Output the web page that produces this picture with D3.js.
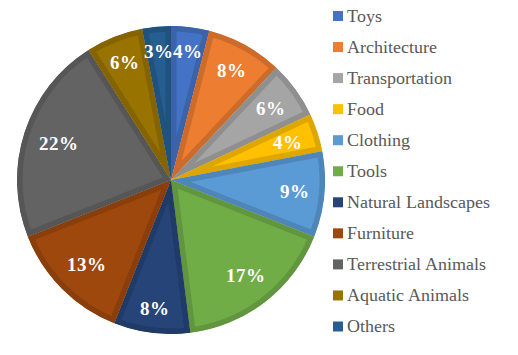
<!DOCTYPE html>
<html><head><meta charset="utf-8">
<script src="https://cdn.jsdelivr.net/npm/d3@7"></script>
<style>
@font-face{font-family:"RefSerif";src:local("Liberation Serif"),local("LiberationSerif");font-weight:normal}
@font-face{font-family:"RefSerif";src:local("Liberation Serif Bold"),local("LiberationSerif-Bold");font-weight:bold}
body{margin:0;background:#fff}
svg{display:block}
</style>
</head><body>
<svg id="c" width="518" height="355"></svg>
<script>
const categories = ["Toys","Architecture","Transportation","Food","Clothing","Tools","Natural Landscapes","Furniture","Terrestrial Animals","Aquatic Animals","Others"];
const values = [4,8,6,4,9,17,8,13,22,6,3];
const colors = ["#4472C4","#ED7D31","#A5A5A5","#FFC000","#5B9BD5","#70AD47","#264478","#9E480E","#636363","#997300","#255E91"];

const FONT = "RefSerif, Times New Roman";
const svg = d3.select("#c");
const cx = 171, cy = 180, R = 154;
const pie = d3.pie().sort(null).value(d => d)(values);
const arc = d3.arc().innerRadius(0).outerRadius(R);
const defs = svg.append("defs");

pie.forEach((p, i) => {
  const id = "clip" + i;
  defs.append("clipPath").attr("id", id).append("path").attr("d", arc(p)).attr("transform", `translate(${cx},${cy})`);
  const sg = svg.append("g").attr("clip-path", `url(#${id})`).append("g").attr("transform", `translate(${cx},${cy})`);
  sg.append("path").attr("d", arc(p))
    .attr("fill", colors[i])
    .attr("stroke", d3.color(colors[i]).darker(0.4))
    .attr("stroke-width", 11)
    .attr("stroke-linejoin", "miter");
});

// labels
const lg = svg.append("g").attr("transform", `translate(${cx},${cy})`);
const Rin = 139;
pie.forEach((p, i) => {
  const a = (p.startAngle + p.endAngle) / 2;
  const t = lg.append("text").text(values[i] + "%")
    .attr("font-family", FONT)
    .attr("font-weight", "bold")
    .attr("font-size", 19)
    .attr("fill", "#fff").attr("text-anchor", "middle")
    .attr("dy", "0.35em");
  const w = (String(values[i]).length * 0.5 + 1) * 19;
  const r = Rin - Math.abs(Math.sin(a)) * w / 2 - Math.abs(Math.cos(a)) * 8;
  t.attr("x", r * Math.sin(a)).attr("y", -r * Math.cos(a));
});

// legend
categories.forEach((c, i) => {
  const y = 16 + i * 31.05;
  svg.append("rect").attr("x", 333).attr("y", y - 5).attr("width", 10).attr("height", 10).attr("fill", colors[i]);
  svg.append("text").attr("x", 347).attr("y", y).attr("dy", "0.33em")
    .attr("font-family", FONT)
    .attr("font-size", 18)
    .attr("fill", "#595959").text(c);
});
</script>
</body></html>
